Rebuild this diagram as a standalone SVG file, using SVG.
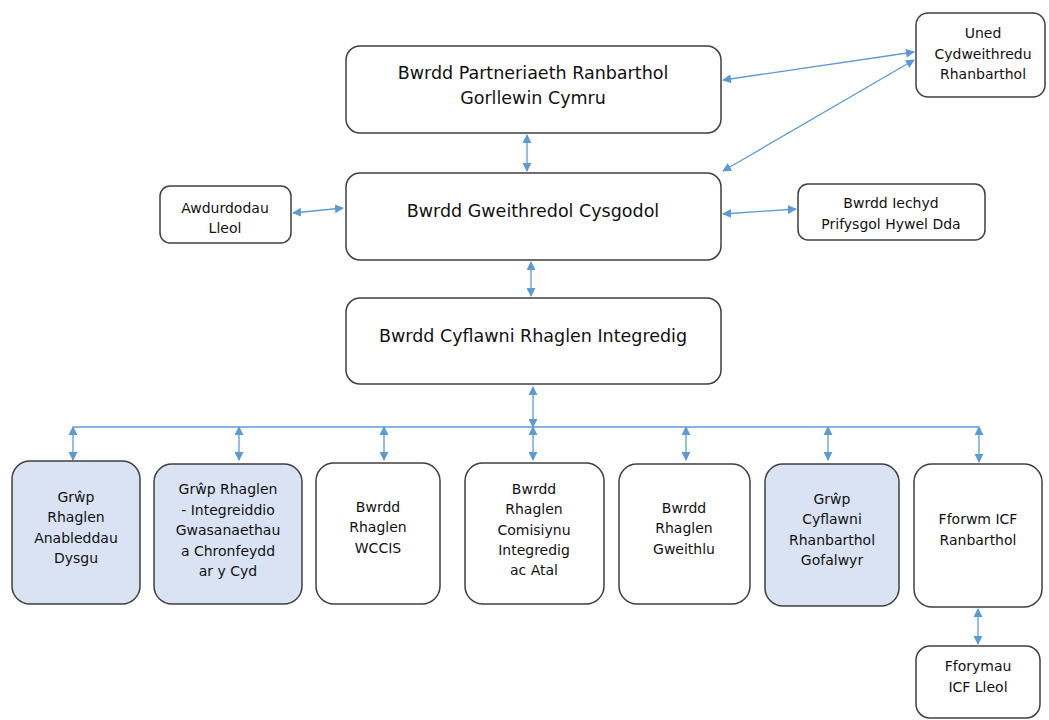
<svg xmlns="http://www.w3.org/2000/svg" width="1049" height="720" viewBox="0 0 1049 720">
<defs>
<marker id="ah" viewBox="0 0 10 10" refX="9" refY="5" markerWidth="9" markerHeight="9" markerUnits="userSpaceOnUse" orient="auto-start-reverse">
<path d="M0,0 L10,5 L0,10 z" fill="#5b9bd5"/>
</marker>
<style>
.box{fill:#ffffff;stroke:#3f3f3f;stroke-width:1.5}
.fill{fill:#dae3f3}
.big{font-family:"DejaVu Sans",Verdana,sans-serif;font-size:17.5px;fill:#111111;text-anchor:middle}
.sm{font-family:"DejaVu Sans",Verdana,sans-serif;font-size:14px;fill:#111111;text-anchor:middle}
.c{stroke:#5b9bd5;stroke-width:1.3;fill:none}
.a{marker-start:url(#ah);marker-end:url(#ah)}
</style>
</defs>
<rect width="1049" height="720" fill="#ffffff"/>
<g id="connectors">
<line class="c a" x1="527" y1="135" x2="527" y2="171"/>
<line class="c a" x1="531" y1="262" x2="531" y2="296"/>
<line class="c a" x1="723" y1="80" x2="914" y2="52"/>
<line class="c a" x1="723" y1="171" x2="914" y2="60"/>
<line class="c a" x1="293" y1="213" x2="343" y2="208"/>
<line class="c a" x1="723" y1="214" x2="796" y2="209"/>
<line class="c a" x1="533" y1="387" x2="533" y2="427"/>
<line class="c" x1="73" y1="427" x2="979" y2="427"/>
<line class="c a" x1="73" y1="427" x2="73" y2="460"/>
<line class="c a" x1="239" y1="427" x2="239" y2="460"/>
<line class="c a" x1="384" y1="427" x2="384" y2="460"/>
<line class="c a" x1="533" y1="427" x2="533" y2="460"/>
<line class="c a" x1="686" y1="427" x2="686" y2="460"/>
<line class="c a" x1="828" y1="427" x2="828" y2="460"/>
<line class="c a" x1="979" y1="427" x2="979" y2="462"/>
<line class="c a" x1="978" y1="609" x2="978" y2="644"/>
</g>
<g id="n-partneriaeth">
<rect class="box" x="346" y="46" width="375" height="87" rx="14"/>
<text class="big" x="533" y="79">Bwrdd Partneriaeth Ranbarthol</text>
<text class="big" x="533" y="104">Gorllewin Cymru</text>
</g>
<g id="n-uned">
<rect class="box" x="916" y="13" width="129" height="84" rx="12"/>
<text class="sm" x="983" y="38">Uned</text>
<text class="sm" x="983" y="59">Cydweithredu</text>
<text class="sm" x="983" y="79">Rhanbarthol</text>
</g>
<g id="n-gweithredol">
<rect class="box" x="346" y="173" width="375" height="87" rx="14"/>
<text class="big" x="533" y="217">Bwrdd Gweithredol Cysgodol</text>
</g>
<g id="n-awdurdodau">
<rect class="box" x="160" y="186" width="131" height="57" rx="10"/>
<text class="sm" x="225" y="213">Awdurdodau</text>
<text class="sm" x="225" y="233">Lleol</text>
</g>
<g id="n-iechyd">
<rect class="box" x="798" y="184" width="187" height="56" rx="10"/>
<text class="sm" x="891" y="208">Bwrdd Iechyd</text>
<text class="sm" x="891" y="229">Prifysgol Hywel Dda</text>
</g>
<g id="n-cyflawni">
<rect class="box" x="346" y="298" width="375" height="86" rx="14"/>
<text class="big" x="533" y="342">Bwrdd Cyflawni Rhaglen Integredig</text>
</g>
<g id="n-anableddau">
<rect class="box fill" x="12" y="461" width="128" height="143" rx="18"/>
<text class="sm" x="76" y="502">Grŵp</text>
<text class="sm" x="76" y="522">Rhaglen</text>
<text class="sm" x="76" y="543">Anableddau</text>
<text class="sm" x="76" y="563">Dysgu</text>
</g>
<g id="n-integreiddio">
<rect class="box fill" x="154" y="464" width="148" height="140" rx="18"/>
<text class="sm" x="228" y="494">Grŵp Rhaglen</text>
<text class="sm" x="228" y="515">- Integreiddio</text>
<text class="sm" x="228" y="535">Gwasanaethau</text>
<text class="sm" x="228" y="556">a Chronfeydd</text>
<text class="sm" x="228" y="576">ar y Cyd</text>
</g>
<g id="n-wccis">
<rect class="box" x="316" y="463" width="124" height="141" rx="18"/>
<text class="sm" x="378" y="512">Bwrdd</text>
<text class="sm" x="378" y="532">Rhaglen</text>
<text class="sm" x="378" y="553">WCCIS</text>
</g>
<g id="n-comisiynu">
<rect class="box" x="465" y="463" width="139" height="141" rx="18"/>
<text class="sm" x="534" y="494">Bwrdd</text>
<text class="sm" x="534" y="514">Rhaglen</text>
<text class="sm" x="534" y="535">Comisiynu</text>
<text class="sm" x="534" y="555">Integredig</text>
<text class="sm" x="534" y="575">ac Atal</text>
</g>
<g id="n-gweithlu">
<rect class="box" x="619" y="464" width="131" height="140" rx="18"/>
<text class="sm" x="684" y="513">Bwrdd</text>
<text class="sm" x="684" y="533">Rhaglen</text>
<text class="sm" x="684" y="554">Gweithlu</text>
</g>
<g id="n-gofalwyr">
<rect class="box fill" x="765" y="464" width="134" height="142" rx="18"/>
<text class="sm" x="832" y="504">Grŵp</text>
<text class="sm" x="832" y="524">Cyflawni</text>
<text class="sm" x="832" y="545">Rhanbarthol</text>
<text class="sm" x="832" y="565">Gofalwyr</text>
</g>
<g id="n-fforwm">
<rect class="box" x="914" y="464" width="128" height="143" rx="18"/>
<text class="sm" x="978" y="524">Fforwm ICF</text>
<text class="sm" x="978" y="545">Ranbarthol</text>
</g>
<g id="n-fforymau">
<rect class="box" x="916" y="646" width="124" height="72" rx="14"/>
<text class="sm" x="978" y="671">Fforymau</text>
<text class="sm" x="978" y="692">ICF Lleol</text>
</g>
</svg>
